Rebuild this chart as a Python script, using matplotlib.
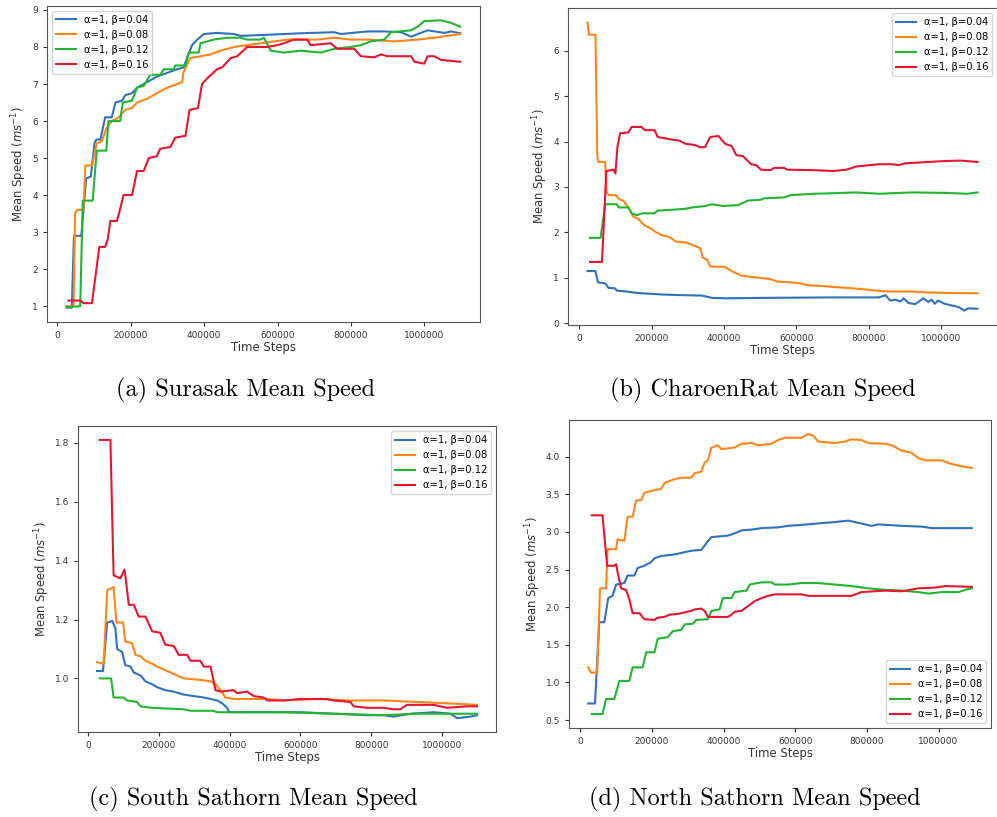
import matplotlib
matplotlib.use("Agg")
import numpy as np
import matplotlib.pyplot as plt

# ---- data: x in thousands of time steps, y = mean speed ----
labels = ["α=1, β=0.04", "α=1, β=0.08", "α=1, β=0.12", "α=1, β=0.16"]
colors = ["#2f72bd", "#ff8517", "#22b531", "#e6162f"]
captions = ["(a) Surasak Mean Speed", "(b) CharoenRat Mean Speed",
            "(c) South Sathorn Mean Speed", "(d) North Sathorn Mean Speed"]

# (a) Surasak
a_b04_x = [25, 39, 45, 65, 78, 91, 101, 106, 117, 130, 148, 158, 176, 185, 203, 217, 244, 271, 299, 326,
           344, 353, 367, 381, 399, 435, 481, 499, 572, 663, 754, 772, 845, 891, 936, 964, 1009, 1055, 1073, 1098]
a_b04_y = [0.96, 0.96, 2.9, 2.9, 4.45, 4.5, 5.4, 5.5, 5.5, 6.1, 6.1, 6.5, 6.55, 6.7, 6.75, 6.9, 7.05, 7.2, 7.3, 7.4,
           7.45, 7.7, 8.05, 8.2, 8.35, 8.38, 8.35, 8.3, 8.33, 8.37, 8.4, 8.35, 8.42, 8.42, 8.4, 8.28, 8.45, 8.38, 8.42, 8.37]
a_b08_x = [25, 44, 48, 54, 71, 76, 94, 107, 121, 133, 148, 167, 185, 203, 217, 244, 262, 280, 299, 326,
           340, 343, 352, 362, 390, 417, 444, 481, 517, 554, 590, 627, 708, 754, 799, 845, 918, 982, 1027, 1098]
a_b08_y = [1.0, 1.0, 3.5, 3.6, 3.6, 4.8, 4.8, 5.4, 5.45, 5.8, 6.0, 6.1, 6.3, 6.35, 6.5, 6.6, 6.7, 6.8, 6.9, 7.0,
           7.05, 7.3, 7.5, 7.7, 7.75, 7.8, 7.9, 8.0, 8.05, 8.1, 8.15, 8.2, 8.2, 8.25, 8.2, 8.2, 8.15, 8.2, 8.25, 8.35]
a_b12_x = [25, 62, 69, 96, 107, 133, 139, 171, 178, 203, 217, 235, 253, 280, 290, 317, 321, 349, 358, 385,
           390, 426, 463, 499, 517, 554, 563, 581, 617, 663, 718, 754, 800, 827, 854, 891, 909, 964, 982, 1000,
           1046, 1073, 1098]
a_b12_y = [0.97, 1.0, 3.85, 3.85, 5.2, 5.2, 6.0, 6.0, 6.5, 6.55, 6.9, 6.95, 7.25, 7.25, 7.4, 7.4, 7.5, 7.5, 7.85, 7.85,
           8.1, 8.2, 8.25, 8.25, 8.2, 8.2, 8.25, 7.9, 7.85, 7.9, 7.85, 7.95, 8.0, 8.05, 8.15, 8.2, 8.4, 8.45, 8.55, 8.7,
           8.72, 8.65, 8.55]
a_b16_x = [30, 62, 71, 94, 114, 130, 137, 144, 162, 169, 180, 203, 217, 235, 249, 271, 280, 308, 321, 349,
           360, 383, 394, 408, 435, 449, 472, 490, 517, 572, 600, 617, 645, 681, 690, 745, 763, 809, 827, 863,
           882, 900, 964, 973, 1000, 1009, 1027, 1046, 1098]
a_b16_y = [1.15, 1.15, 1.08, 1.08, 2.6, 2.6, 2.8, 3.3, 3.3, 3.55, 4.0, 4.0, 4.65, 4.65, 5.0, 5.05, 5.25, 5.3, 5.55, 5.6,
           6.3, 6.35, 7.0, 7.15, 7.4, 7.45, 7.7, 7.75, 8.0, 8.0, 8.05, 8.1, 8.2, 8.2, 8.05, 8.1, 7.95, 7.95, 7.75, 7.72,
           7.8, 7.75, 7.75, 7.6, 7.55, 7.75, 7.75, 7.65, 7.6]

# (b) CharoenRat
b_b04_x = [23, 45, 52, 72, 81, 99, 104, 131, 158, 195, 240, 285, 339, 367, 403, 511, 692, 828, 846, 859,
           873, 887, 896, 909, 928, 950, 964, 973, 982, 991, 1009, 1036, 1050, 1063, 1072, 1077, 1100]
b_b04_y = [1.15, 1.15, 0.9, 0.88, 0.78, 0.77, 0.72, 0.7, 0.67, 0.65, 0.63, 0.62, 0.61, 0.56, 0.55, 0.56, 0.57, 0.57, 0.62, 0.5,
           0.52, 0.48, 0.55, 0.45, 0.42, 0.55, 0.47, 0.52, 0.43, 0.5, 0.43, 0.38, 0.35, 0.28, 0.32, 0.33, 0.32]
b_b08_x = [23, 27, 45, 50, 53, 72, 75, 81, 100, 113, 122, 140, 149, 163, 181, 195, 213, 231, 249, 267,
           294, 321, 335, 341, 353, 362, 403, 421, 448, 475, 502, 529, 547, 584, 611, 629, 674, 701, 738, 783,
           819, 855, 918, 964, 1009, 1100]
b_b08_y = [6.62, 6.35, 6.35, 3.7, 3.55, 3.55, 2.9, 2.82, 2.82, 2.72, 2.7, 2.5, 2.35, 2.3, 2.15, 2.1, 2.0, 1.93, 1.9, 1.8,
           1.78, 1.7, 1.65, 1.45, 1.4, 1.25, 1.24, 1.15, 1.05, 1.02, 1.0, 0.97, 0.92, 0.9, 0.88, 0.84, 0.82, 0.8, 0.78, 0.75,
           0.72, 0.7, 0.7, 0.68, 0.67, 0.66]
b_b12_x = [30, 59, 72, 104, 109, 136, 145, 158, 176, 208, 217, 258, 294, 312, 348, 367, 398, 439, 466, 502,
           511, 566, 584, 647, 692, 765, 828, 919, 1009, 1072, 1100]
b_b12_y = [1.88, 1.88, 2.62, 2.62, 2.55, 2.55, 2.42, 2.38, 2.42, 2.42, 2.48, 2.5, 2.52, 2.55, 2.58, 2.62, 2.58, 2.6, 2.7, 2.72,
           2.75, 2.77, 2.82, 2.85, 2.86, 2.88, 2.85, 2.88, 2.87, 2.85, 2.88]
b_b16_x = [30, 63, 75, 95, 100, 106, 113, 136, 145, 172, 181, 208, 217, 249, 276, 294, 321, 335, 348, 362,
           385, 403, 421, 434, 452, 475, 489, 502, 529, 538, 566, 575, 647, 701, 738, 765, 801, 828, 864, 882,
           900, 964, 1009, 1054, 1100]
b_b16_y = [1.35, 1.35, 3.35, 3.38, 3.3, 3.9, 4.18, 4.2, 4.32, 4.32, 4.25, 4.25, 4.1, 4.05, 4.02, 3.95, 3.92, 3.87, 3.88, 4.1,
           4.12, 3.95, 3.9, 3.7, 3.68, 3.5, 3.48, 3.38, 3.37, 3.42, 3.42, 3.38, 3.37, 3.35, 3.38, 3.45, 3.48, 3.5, 3.5, 3.48,
           3.52, 3.55, 3.57, 3.58, 3.55]

# (c) South Sathorn
c_b04_x = [25, 42, 54, 68, 77, 82, 96, 105, 120, 129, 148, 162, 181, 195, 218, 242, 270, 298, 327, 346,
           365, 379, 393, 398, 600, 694, 788, 835, 863, 911, 977, 1024, 1043, 1080, 1099]
c_b04_y = [1.025, 1.025, 1.19, 1.195, 1.17, 1.1, 1.09, 1.045, 1.04, 1.02, 1.01, 0.99, 0.98, 0.97, 0.96, 0.955, 0.945, 0.94, 0.935, 0.93,
           0.925, 0.915, 0.9, 0.885, 0.885, 0.88, 0.875, 0.875, 0.87, 0.88, 0.885, 0.88, 0.865, 0.87, 0.875]
c_b08_x = [25, 44, 54, 72, 80, 99, 105, 124, 134, 148, 162, 181, 195, 214, 233, 251, 270, 317, 346, 360,
           374, 388, 412, 506, 553, 647, 741, 835, 929, 1024, 1099]
c_b08_y = [1.055, 1.05, 1.3, 1.31, 1.19, 1.19, 1.125, 1.12, 1.08, 1.075, 1.06, 1.05, 1.04, 1.03, 1.02, 1.01, 1.0, 0.995, 0.99, 0.98,
           0.96, 0.935, 0.93, 0.93, 0.925, 0.93, 0.925, 0.925, 0.92, 0.915, 0.91]
c_b12_x = [33, 65, 72, 101, 110, 138, 148, 181, 270, 289, 355, 364, 553, 694, 835, 929, 1099]
c_b12_y = [1.0, 1.0, 0.935, 0.935, 0.925, 0.92, 0.905, 0.9, 0.895, 0.89, 0.89, 0.885, 0.885, 0.88, 0.875, 0.88, 0.88]
c_b16_x = [33, 63, 72, 91, 103, 115, 129, 143, 162, 181, 204, 218, 242, 256, 280, 289, 317, 327, 346, 360,
           374, 411, 421, 449, 468, 496, 506, 553, 600, 675, 694, 741, 751, 788, 835, 863, 882, 901, 977, 996,
           1014, 1071, 1099]
c_b16_y = [1.81, 1.81, 1.35, 1.34, 1.37, 1.25, 1.25, 1.21, 1.21, 1.16, 1.155, 1.115, 1.11, 1.08, 1.08, 1.06, 1.06, 1.04, 1.04, 0.96,
           0.955, 0.96, 0.95, 0.955, 0.94, 0.935, 0.925, 0.925, 0.93, 0.93, 0.925, 0.92, 0.905, 0.9, 0.9, 0.895, 0.895, 0.91, 0.91, 0.905,
           0.9, 0.905, 0.905]

# (d) North Sathorn
d_b04_x = [22, 41, 53, 67, 78, 90, 100, 123, 132, 151, 160, 179, 198, 207, 226, 263, 282, 310, 338, 352,
           366, 412, 431, 450, 478, 506, 552, 580, 636, 683, 711, 748, 776, 813, 832, 897, 953, 981, 1093]
d_b04_y = [0.72, 0.72, 1.8, 1.8, 2.12, 2.15, 2.3, 2.32, 2.42, 2.42, 2.52, 2.55, 2.6, 2.65, 2.68, 2.7, 2.72, 2.75, 2.76, 2.85,
           2.93, 2.95, 2.98, 3.02, 3.03, 3.05, 3.06, 3.08, 3.1, 3.12, 3.13, 3.15, 3.12, 3.08, 3.1, 3.08, 3.07, 3.05, 3.05]
d_b08_x = [22, 30, 47, 55, 72, 76, 100, 104, 123, 132, 146, 156, 170, 179, 202, 226, 235, 263, 282, 310,
           319, 338, 347, 356, 366, 384, 394, 431, 450, 478, 496, 534, 552, 571, 618, 636, 650, 664, 711, 739,
           757, 785, 804, 851, 869, 897, 925, 944, 963, 1009, 1037, 1065, 1093]
d_b08_y = [1.2, 1.13, 1.13, 2.25, 2.25, 2.77, 2.77, 2.9, 2.88, 3.2, 3.2, 3.42, 3.42, 3.52, 3.55, 3.57, 3.65, 3.7, 3.72, 3.72,
           3.78, 3.8, 3.92, 3.95, 4.12, 4.15, 4.1, 4.12, 4.17, 4.18, 4.15, 4.17, 4.22, 4.25, 4.25, 4.3, 4.28, 4.2, 4.18, 4.2,
           4.23, 4.22, 4.18, 4.17, 4.15, 4.08, 4.05, 3.98, 3.95, 3.95, 3.9, 3.87, 3.85]
d_b12_x = [32, 62, 72, 95, 109, 137, 146, 174, 184, 207, 216, 244, 258, 282, 291, 314, 324, 356, 366, 389,
           398, 422, 431, 464, 473, 506, 534, 543, 580, 618, 664, 711, 757, 804, 851, 897, 944, 972, 1009, 1056,
           1075, 1093]
d_b12_y = [0.58, 0.58, 0.78, 0.78, 1.02, 1.02, 1.2, 1.2, 1.4, 1.4, 1.58, 1.6, 1.68, 1.7, 1.77, 1.78, 1.83, 1.84, 1.95, 1.97,
           2.12, 2.12, 2.2, 2.22, 2.3, 2.33, 2.33, 2.3, 2.3, 2.32, 2.32, 2.3, 2.28, 2.25, 2.23, 2.22, 2.2, 2.18, 2.2, 2.2,
           2.23, 2.25]
d_b16_x = [32, 62, 75, 95, 100, 106, 114, 128, 137, 146, 165, 179, 207, 216, 235, 249, 272, 291, 310, 319,
           338, 347, 356, 412, 422, 431, 450, 473, 487, 506, 524, 543, 618, 636, 711, 757, 785, 851, 897, 944,
           991, 1019, 1093]
d_b16_y = [3.22, 3.22, 2.55, 2.55, 2.57, 2.42, 2.25, 2.23, 2.1, 1.92, 1.92, 1.84, 1.83, 1.86, 1.87, 1.9, 1.91, 1.93, 1.95, 1.97,
           1.98, 1.95, 1.87, 1.87, 1.9, 1.94, 1.95, 2.03, 2.08, 2.12, 2.15, 2.17, 2.17, 2.15, 2.15, 2.15, 2.2, 2.22, 2.21, 2.25,
           2.26, 2.28, 2.27]

panels = [
    ([(a_b04_x, a_b04_y), (a_b08_x, a_b08_y), (a_b12_x, a_b12_y), (a_b16_x, a_b16_y)], "upper left"),
    ([(b_b04_x, b_b04_y), (b_b08_x, b_b08_y), (b_b12_x, b_b12_y), (b_b16_x, b_b16_y)], "upper right"),
    ([(c_b04_x, c_b04_y), (c_b08_x, c_b08_y), (c_b12_x, c_b12_y), (c_b16_x, c_b16_y)], "upper right"),
    ([(d_b04_x, d_b04_y), (d_b08_x, d_b08_y), (d_b12_x, d_b12_y), (d_b16_x, d_b16_y)], "lower right"),
]

# axes rectangles in figure fractions and caption centres
rects = [
    [0.0471, 0.6059, 0.4343, 0.3868],
    [0.5697, 0.6022, 0.4303, 0.3880],
    [0.0782, 0.1040, 0.4193, 0.3745],
    [0.5707, 0.1089, 0.4233, 0.3770],
]
cap_pos = [(0.246, 0.522), (0.765, 0.522), (0.254, 0.022), (0.757, 0.022)]

fig = plt.figure(figsize=(9.97, 8.17), dpi=100)

for i, (series, loc) in enumerate(panels):
    ax = fig.add_axes(rects[i])
    for (xs, ys), lab, col in zip(series, labels, colors):
        ax.plot(np.array(xs) * 1000, ys, color=col, lw=1.5, label=lab)
    ax.ticklabel_format(axis="x", style="plain", useOffset=False)
    ax.set_xticks([0, 200000, 400000, 600000, 800000, 1000000])
    ax.tick_params(labelsize=6.5, colors="#333333", length=3)
    for s in ax.spines.values():
        s.set_color("#555555")
    ax.set_xlabel("Time Steps", fontsize=8.4, color="#333333", labelpad=1)
    ax.set_ylabel("Mean Speed ($ms^{-1}$)", fontsize=8.4, color="#333333", labelpad=2)
    ax.legend(loc=loc, fontsize=7.2, framealpha=0.8)
    fig.text(cap_pos[i][0], cap_pos[i][1], captions[i], family="cmr10",
             fontsize=17.5, ha="center", va="center")

fig.savefig("out.png", dpi=100)
